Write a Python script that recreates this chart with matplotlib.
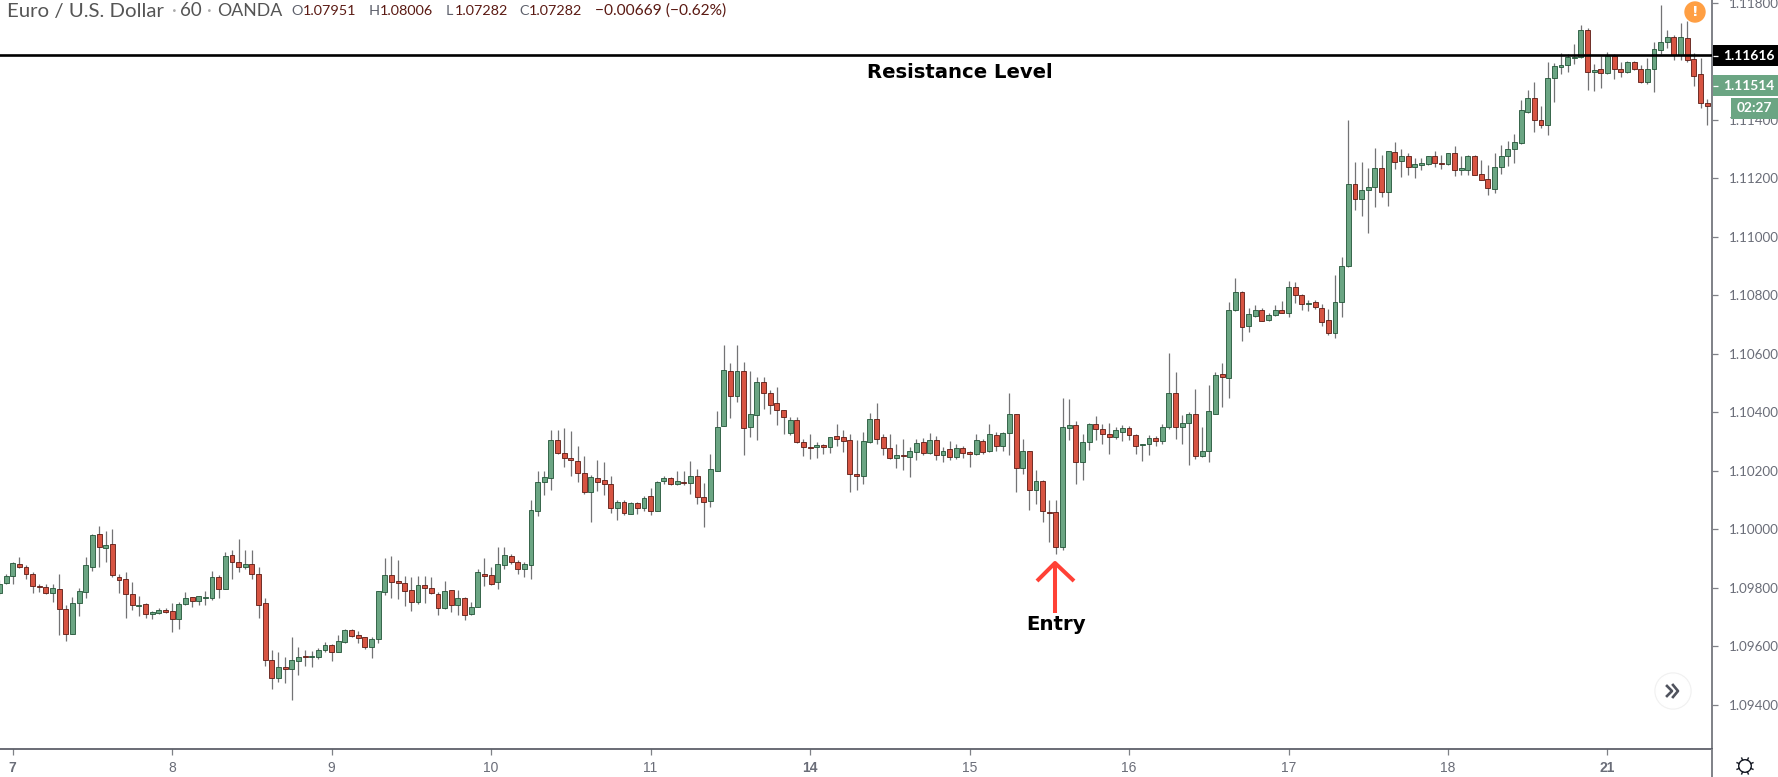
import matplotlib
matplotlib.use("Agg")
import matplotlib.pyplot as plt
from matplotlib.lines import Line2D
from matplotlib.patches import Circle, Rectangle
import numpy as np

W, H = 1778, 777

# EURUSD hourly candles, in 1/100000 of a price unit
open_pts = [
    109782,109817,109839,109880,109872,109847,109805,109803,109782,109795,
    109728,109641,109748,109786,109871,109983,109935,109950,109838,109830,
    109779,109738,109745,109710,109714,109723,109719,109691,109743,109767,
    109755,109763,109765,109835,109795,109911,109889,109871,109881,109847,
    109746,109553,109491,109530,109521,109550,109566,109563,109564,109586,
    109603,109581,109615,109655,109638,109630,109598,109624,109786,109843,
    109822,109817,109792,109752,109809,109800,109779,109729,109791,109739,
    109763,109709,109734,109847,109843,109820,109879,109907,109889,109863,
    109879,110063,110161,110174,110305,110262,110245,110232,110193,110127,
    110175,110167,110155,110072,110094,110053,110091,110072,110112,110062,
    110163,110176,110153,110162,110158,110181,110111,110097,110200,110354,
    110540,110457,110540,110349,110389,110505,110467,110433,110407,110328,
    110372,110299,110282,110282,110287,110282,110317,110314,110306,110188,
    110183,110299,110377,110314,110276,110242,110255,110247,110265,110299,
    110260,110304,110252,110275,110247,110279,110263,110256,110300,110268,
    110322,110285,110329,110395,110208,110269,110133,110164,110060,110057,
    109939,110346,110356,110230,110299,110360,110342,110326,110316,110333,
    110347,110322,110287,110290,110313,110302,110351,110467,110349,110363,
    110395,110251,110268,110395,110531,110516,110750,110810,110696,110730,
    110750,110717,110731,110750,110739,110830,110801,110769,110778,110758,
    110715,110671,110778,110899,111181,111128,111160,111172,111237,111154,
    111289,111260,111275,111239,111246,111248,111276,111254,111248,111285,
    111230,111230,111276,111215,111198,111165,111240,111278,111300,111320,
    111428,111476,111399,111381,111542,111582,111586,111610,111615,111707,
    111565,111575,111560,111620,111574,111565,111599,111574,111531,111573,
    111640,111667,111685,111622,111681,111608,111558,111459]
high_pts = [
    109826,109846,109888,109905,109876,109853,109814,109814,109814,109845,
    109740,109769,109797,109905,109985,110010,109993,109999,109848,109853,
    109819,109771,109746,109719,109732,109732,109746,109751,109786,109769,
    109772,109788,109858,109843,109921,109928,109965,109930,109930,109870,
    109763,109587,109580,109562,109630,109596,109587,109582,109592,109614,
    109607,109638,109657,109658,109652,109632,109630,109787,109900,109908,
    109896,109839,109835,109839,109839,109835,109786,109822,109793,109793,
    109768,109751,109863,109900,109871,109939,109939,109914,109894,109887,
    110101,110199,110199,110340,110340,110346,110335,110283,110249,110184,
    110237,110229,110183,110101,110099,110093,110093,110112,110142,110165,
    110181,110178,110199,110199,110233,110207,110159,110258,110404,110631,
    110567,110631,110571,110540,110520,110520,110476,110485,110408,110385,
    110385,110309,110324,110298,110292,110315,110358,110340,110326,110306,
    110332,110397,110431,110324,110324,110290,110309,110281,110309,110312,
    110330,110318,110281,110300,110290,110283,110269,110326,110309,110358,
    110333,110334,110465,110395,110309,110269,110201,110169,110101,110101,
    110448,110444,110370,110324,110363,110388,110358,110363,110349,110355,
    110354,110326,110292,110321,110317,110358,110602,110537,110391,110400,
    110478,110349,110494,110537,110568,110776,110859,110813,110756,110768,
    110756,110738,110768,110782,110850,110844,110805,110784,110784,110770,
    110753,110871,110930,111401,111255,111257,111235,111303,111280,111293,
    111323,111300,111288,111271,111271,111278,111292,111280,111288,111310,
    111277,111280,111280,111263,111245,111288,111314,111328,111351,111469,
    111503,111528,111448,111598,111595,111630,111626,111660,111726,111715,
    111590,111618,111633,111626,111599,111603,111603,111587,111610,111667,
    111792,111707,111689,111732,111738,111627,111610,111470]
low_pts = [
    109775,109811,109814,109866,109828,109780,109785,109778,109752,109638,
    109619,109641,109704,109763,109858,109871,109888,109837,109780,109695,
    109723,109704,109695,109694,109710,109714,109649,109660,109740,109735,
    109740,109739,109757,109763,109794,109828,109853,109862,109831,109695,
    109532,109452,109478,109473,109414,109501,109532,109530,109555,109581,
    109550,109581,109612,109632,109610,109589,109558,109610,109776,109763,
    109760,109738,109721,109743,109746,109778,109705,109726,109715,109706,
    109689,109707,109734,109805,109808,109796,109865,109882,109846,109837,
    109831,110046,110118,110135,110256,110212,110183,110161,110119,110025,
    110130,110118,110055,110033,110047,110051,110053,110062,110050,110061,
    110155,110150,110150,110150,110121,110087,110008,110076,110200,110352,
    110379,110434,110254,110315,110306,110412,110394,110357,110326,110322,
    110295,110250,110241,110245,110258,110260,110283,110264,110127,110135,
    110155,110294,110292,110252,110241,110208,110201,110178,110235,110252,
    110258,110238,110230,110238,110241,110244,110213,110252,110258,110264,
    110269,110269,110255,110127,110188,110067,110085,110025,109957,109914,
    109930,110306,110153,110169,110272,110306,110292,110258,110309,110301,
    110304,110258,110234,110252,110283,110292,110342,110309,110292,110221,
    110241,110247,110230,110393,110417,110447,110747,110645,110673,110727,
    110711,110713,110729,110738,110725,110772,110748,110747,110753,110696,
    110665,110654,110725,110898,111091,111072,111012,111103,111137,111106,
    111231,111203,111212,111201,111229,111246,111240,111231,111246,111209,
    111212,111212,111212,111194,111144,111149,111214,111243,111251,111317,
    111425,111359,111371,111348,111461,111558,111564,111590,111613,111501,
    111499,111510,111556,111541,111545,111559,111572,111527,111521,111495,
    111624,111647,111605,111605,111598,111516,111442,111383]
close_pts = [
    109814,109839,109885,109871,109845,109804,109802,109782,109800,109726,
    109641,109748,109787,109877,109979,109940,109945,109842,109825,109778,
    109739,109742,109709,109716,109722,109718,109691,109745,109765,109755,
    109770,109767,109835,109795,109908,109889,109871,109881,109846,109739,
    109551,109490,109530,109521,109553,109564,109563,109566,109586,109603,
    109581,109616,109655,109636,109629,109598,109625,109787,109843,109820,
    109815,109790,109752,109809,109798,109782,109730,109790,109739,109763,
    109705,109735,109853,109841,109814,109882,109911,109887,109863,109882,
    110064,110162,110177,110305,110260,110243,110235,110191,110127,110177,
    110162,110153,110071,110094,110055,110091,110072,110108,110063,110162,
    110176,110153,110163,110158,110181,110111,110093,110207,110351,110545,
    110457,110540,110346,110394,110505,110465,110426,110406,110384,110372,
    110298,110282,110276,110287,110282,110314,110310,110302,110187,110183,
    110300,110377,110308,110277,110242,110254,110249,110266,110296,110260,
    110304,110252,110269,110247,110279,110260,110256,110304,110265,110326,
    110284,110330,110395,110208,110269,110133,110164,110062,110054,109939,
    110348,110356,110230,110299,110360,110341,110324,110316,110339,110347,
    110321,110285,110291,110313,110302,110351,110467,110350,110364,110395,
    110251,110269,110403,110527,110521,110750,110810,110690,110736,110750,
    110713,110733,110750,110738,110830,110800,110770,110775,110761,110710,
    110671,110778,110899,111181,111128,111160,111172,111237,111153,111293,
    111256,111275,111239,111250,111251,111276,111251,111248,111285,111230,
    111234,111276,111212,111196,111166,111240,111275,111301,111323,111434,
    111476,111399,111384,111544,111583,111587,111614,111615,111707,111565,
    111570,111560,111618,111573,111565,111599,111573,111529,111574,111642,
    111665,111685,111622,111683,111605,111551,111457,111449]

price_ticks = [1.094, 1.096, 1.098, 1.100, 1.102, 1.104, 1.106, 1.108, 1.110, 1.112, 1.114, 1.118]
day_labels = ["7", "8", "9", "10", "11", "14", "15", "16", "17", "18", "21"]
day_starts = [2, 26, 50, 74, 98, 122, 146, 170, 194, 218, 242]
# the hand drawn line sits a touch above its own axis label
resistance_line = 1.11621

UP, DOWN = "#6ba583", "#d75442"
UP_EDGE, DOWN_EDGE = "#225437", "#5b1a13"
WICK = "#737375"
TEXT = "#6a6d78"
HEAD_FONT = "Lato"


def px(x, y):
    # pixel position, origin top left, to figure fraction
    return x / W, 1 - y / H


def add_text(x, y, s, **kw):
    kw.setdefault("va", "center")
    kw.setdefault("ha", "left")
    fig.text(*px(x, y), s, **kw)


def add_box(x0, y0, x1, y1, color):
    fig.add_artist(Rectangle(px(x0, y1), (x1 - x0) / W, (y1 - y0) / H, color=color,
                             lw=0, transform=fig.transFigure, zorder=5))


def add_line(xs, ys, color, lw, zorder=6):
    fx = [x / W for x in xs]
    fy = [1 - y / H for y in ys]
    fig.add_artist(Line2D(fx, fy, color=color, lw=lw, zorder=zorder, solid_capstyle="butt"))


def icon_axes(cx, cy, half):
    # small axes in pixel units, centred on (cx, cy), for the round widgets
    a = fig.add_axes([(cx - half) / W, 1 - (cy + half) / H, 2 * half / W, 2 * half / H], zorder=8)
    a.set_xlim(-half, half)
    a.set_ylim(half, -half)
    a.axis("off")
    return a


op = np.array(open_pts) / 100000
hi = np.array(high_pts) / 100000
lo = np.array(low_pts) / 100000
cl = np.array(close_pts) / 100000
idx = np.arange(len(op))

fig = plt.figure(figsize=(W / 100, H / 100), dpi=100, facecolor="white")
ax = fig.add_axes([0, 1 - 749 / H, 1712 / W, 749 / H])
ax.set_xlim(0.09, 257.73)
ax.set_ylim(1.09248, 1.11810)

ax.vlines(idx, lo, hi, color=WICK, lw=0.9, zorder=2)
up = cl >= op
body_bot = np.minimum(op, cl)
body_h = np.abs(cl - op)
ax.bar(idx[up], body_h[up], bottom=body_bot[up], width=0.74, color=UP, edgecolor=UP_EDGE, lw=0.6, zorder=3)
ax.bar(idx[~up], body_h[~up], bottom=body_bot[~up], width=0.74, color=DOWN, edgecolor=DOWN_EDGE, lw=0.6, zorder=3)

ax.axhline(resistance_line, color="black", lw=1.9, zorder=4)

for s in ["top", "left"]:
    ax.spines[s].set_visible(False)
ax.spines["right"].set_color("#7f8187")
ax.spines["right"].set_linewidth(1.4)
ax.spines["bottom"].set_color("#50535e")
ax.spines["bottom"].set_linewidth(1.2)

ax.yaxis.tick_right()
ax.set_yticks(price_ticks)
ax.set_yticklabels(["%.5f" % p for p in price_ticks], fontname=HEAD_FONT, fontsize=9.7, color=TEXT)
ax.tick_params(axis="y", length=4, width=0.9, color="#7f8187", pad=8)

ax.set_xticks(day_starts)
ax.set_xticklabels(day_labels, fontname="Liberation Sans", fontsize=10, color=TEXT)
for lab, name in zip(ax.get_xticklabels(), day_labels):
    if name in ("7", "14", "21"):
        lab.set_fontweight("bold")
ax.tick_params(axis="x", length=4, width=0.9, color="#7f8187", pad=5)

# right axis line carries on below the time scale
add_line([1712, 1712], [749, H], "#7f8187", 1.4)

# header
add_text(7, 11, "Euro / U.S. Dollar", fontname=HEAD_FONT, fontsize=14.7, color="#555555")
add_text(172, 11, "·", fontname=HEAD_FONT, fontsize=13.5, color="#aaaaaa")
add_text(180, 11, "60", fontname=HEAD_FONT, fontsize=13.5, color="#555555")
add_text(207, 11, "·", fontname=HEAD_FONT, fontsize=13.5, color="#aaaaaa")
add_text(217, 11, "OANDA", fontname=HEAD_FONT, fontsize=12.8, color="#555555")
ohlc_x = [(291, 303, "O", "1.07951"), (369, 380, "H", "1.08006"), (446, 455, "L", "1.07282"), (519, 529, "C", "1.07282")]
for x0, x1, letter, val in ohlc_x:
    add_text(x0, 11, letter, fontname=HEAD_FONT, fontsize=10.4, color="#5d606b")
    add_text(x1, 11, val, fontname=HEAD_FONT, fontsize=10.4, color=DOWN_EDGE)
add_text(595, 11, "\u22120.00669 (\u22120.62%)", fontname=HEAD_FONT, fontsize=11.2, color=DOWN_EDGE)

# price labels on the right axis
add_box(1713, 45, W, 66, "black")
add_text(1723, 55.5, "1.11616", fontname=HEAD_FONT, fontsize=9.9, fontweight="bold", color="white", zorder=7)
add_box(1713, 75, W, 96, UP)
add_text(1723, 86, "1.11514", fontname=HEAD_FONT, fontsize=9.9, fontweight="bold", color="white", zorder=7)
add_box(1731, 98, W, 119, UP)
add_text(1737, 108.5, "02:27", fontname=HEAD_FONT, fontsize=9.9, fontweight="bold", color="white", zorder=7)
add_line([1713, 1718], [55.5, 55.5], "white", 0.9, 7)
add_line([1713, 1718], [86, 86], "white", 0.9, 7)

# annotations
add_text(959.5, 72.5, "Resistance Level", ha="center", fontname="DejaVu Sans", fontweight="bold", fontsize=14.1, color="black")
add_text(1056, 624, "Entry", ha="center", fontname="DejaVu Sans", fontweight="bold", fontsize=14.2, color="black")
add_line([1055, 1055], [613, 564], "#ff4136", 2.9)
add_line([1037, 1055, 1074], [581, 563, 581], "#ff4136", 2.9)

# alert badge
badge = icon_axes(1695, 12, 12)
badge.add_patch(Circle((0, 0), 10, color="#ff9f43"))
badge.text(0, 0, "!", ha="center", va="center", fontname="DejaVu Sans", fontweight="bold", fontsize=10, color="white")

# scroll button
btn = icon_axes(1673, 691, 23)
btn.add_patch(Circle((0, 0), 18, color="#f1f1f1"))
btn.add_patch(Circle((0, 0), 16.8, color="white"))
btn.plot([-6, -1, -6], [-5, 0, 5], color="#50535e", lw=1.9)
btn.plot([0, 5, 0], [-6, 0, 6], color="#50535e", lw=1.9)

# settings icon
gear = icon_axes(1745, 766, 15)
gear.add_patch(Circle((0, 0), 6.3, fill=False, ec="#131722", lw=1.0))
for a in np.deg2rad(np.arange(22.5, 360, 45)):
    gear.plot([6.3 * np.cos(a), 8.6 * np.cos(a)], [6.3 * np.sin(a), 8.6 * np.sin(a)], color="#131722", lw=1.0)

plt.savefig("out.png", dpi=100)
